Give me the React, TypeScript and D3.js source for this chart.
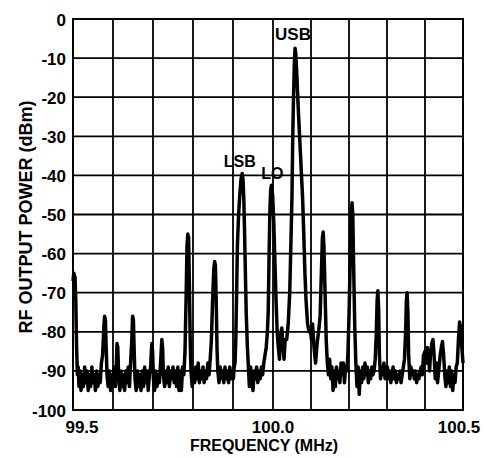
import React from 'react';
import * as d3 from 'd3';

// ── Data ─────────────────────────────────────────────────────────────────────
const yTicks = [0, -10, -20, -30, -40, -50, -60, -70, -80, -90, -100];
const xGrid = [99.5, 99.6, 99.7, 99.8, 99.9, 100.0, 100.1, 100.2, 100.3, 100.4, 100.5];
const xTickLabels = ['99.5', '100.0', '100.5'];
const xTickValues = [99.5, 100.0, 100.5];

const markers = [
  { label: 'LSB', f: 99.922, dbm: -40 },
  { label: 'LO', f: 99.996, dbm: -42.5 },
  { label: 'USB', f: 100.058, dbm: -7.5 },
];

// [frequency MHz, power dBm]
const trace: [number, number][] = [
  [99.5, -67], [99.502, -65], [99.505, -66], [99.507, -72], [99.509, -84], [99.511, -91],
  [99.513, -89], [99.515, -94], [99.518, -90], [99.52, -95], [99.523, -91], [99.526, -94],
  [99.529, -89], [99.532, -93], [99.535, -90], [99.538, -95], [99.541, -91], [99.544, -94],
  [99.547, -89], [99.55, -93], [99.553, -91], [99.556, -95], [99.559, -90], [99.562, -94],
  [99.565, -91], [99.568, -93], [99.571, -88], [99.574, -86], [99.577, -79], [99.579, -76],
  [99.581, -77], [99.583, -84], [99.585, -91], [99.588, -94], [99.591, -90], [99.594, -95],
  [99.597, -91], [99.6, -93], [99.603, -89], [99.606, -94], [99.608, -90], [99.61, -83],
  [99.612, -84], [99.614, -91], [99.617, -95], [99.62, -90], [99.623, -94], [99.626, -91],
  [99.629, -95], [99.632, -90], [99.635, -93], [99.638, -89], [99.641, -94], [99.644, -88],
  [99.647, -82], [99.649, -76], [99.651, -77], [99.653, -85], [99.655, -92], [99.658, -95],
  [99.661, -90], [99.664, -94], [99.667, -91], [99.67, -95], [99.673, -90], [99.676, -94],
  [99.679, -89], [99.682, -93], [99.685, -90], [99.688, -95], [99.691, -91], [99.694, -89],
  [99.697, -83], [99.699, -85], [99.701, -92], [99.704, -95], [99.707, -90], [99.71, -94],
  [99.713, -91], [99.716, -93], [99.719, -88], [99.722, -82], [99.724, -84], [99.726, -91],
  [99.729, -94], [99.732, -90], [99.735, -93], [99.738, -89], [99.741, -94], [99.744, -90],
  [99.747, -92], [99.75, -89], [99.753, -93], [99.756, -90], [99.759, -94], [99.762, -89],
  [99.765, -95], [99.768, -90], [99.771, -95], [99.774, -89], [99.777, -91], [99.78, -85],
  [99.783, -70], [99.785, -58], [99.787, -55], [99.789, -56], [99.791, -68], [99.793, -82],
  [99.795, -90], [99.798, -94], [99.801, -90], [99.804, -93], [99.807, -89], [99.81, -92],
  [99.813, -88], [99.816, -93], [99.819, -90], [99.822, -92], [99.825, -89], [99.828, -93],
  [99.831, -90], [99.834, -92], [99.837, -88], [99.84, -91], [99.843, -87], [99.846, -82],
  [99.849, -72], [99.852, -64], [99.854, -62], [99.856, -63], [99.858, -72], [99.86, -84],
  [99.862, -90], [99.865, -93], [99.868, -89], [99.871, -92], [99.874, -90], [99.877, -93],
  [99.88, -89], [99.883, -92], [99.886, -90], [99.889, -93], [99.892, -89], [99.895, -92],
  [99.898, -90], [99.901, -92], [99.903, -89], [99.905, -88], [99.907, -82], [99.909, -70],
  [99.911, -58], [99.914, -50], [99.917, -45], [99.92, -41], [99.923, -39.5], [99.925, -41],
  [99.927, -46], [99.929, -55], [99.931, -65], [99.933, -75], [99.936, -84], [99.939, -90],
  [99.941, -94], [99.944, -89], [99.947, -92], [99.95, -95], [99.953, -90], [99.956, -92],
  [99.959, -89], [99.962, -93], [99.965, -90], [99.968, -92], [99.971, -89], [99.974, -91],
  [99.977, -88], [99.98, -86], [99.983, -84], [99.986, -80], [99.988, -75], [99.99, -62],
  [99.992, -50], [99.994, -44], [99.996, -42.5], [99.999, -45], [100.002, -52], [100.005, -62],
  [100.008, -72], [100.011, -80], [100.014, -84], [100.017, -87], [100.02, -81], [100.023, -79],
  [100.026, -83], [100.029, -87], [100.032, -82], [100.036, -82], [100.04, -78], [100.044, -70],
  [100.047, -58], [100.05, -45], [100.052, -30], [100.054, -20], [100.056, -12], [100.058, -7.5],
  [100.06, -9], [100.063, -15], [100.066, -22], [100.07, -30], [100.074, -38], [100.078, -46],
  [100.081, -55], [100.084, -65], [100.087, -72], [100.091, -78], [100.095, -80], [100.098, -79],
  [100.101, -82], [100.104, -78], [100.108, -84], [100.112, -88], [100.116, -83], [100.12, -80],
  [100.124, -76], [100.127, -66], [100.13, -56], [100.132, -54.5], [100.134, -58], [100.137, -70],
  [100.14, -82], [100.143, -88], [100.146, -91], [100.149, -87], [100.152, -92], [100.155, -89],
  [100.158, -95], [100.161, -90], [100.164, -94], [100.167, -89], [100.17, -92], [100.173, -90],
  [100.176, -93], [100.179, -88], [100.182, -91], [100.185, -88], [100.188, -93], [100.191, -89],
  [100.194, -90], [100.197, -86], [100.2, -76], [100.203, -63], [100.206, -50], [100.208, -47],
  [100.21, -50], [100.212, -62], [100.215, -78], [100.218, -88], [100.221, -94], [100.224, -89],
  [100.227, -96], [100.23, -90], [100.233, -93], [100.236, -89], [100.239, -92], [100.242, -88],
  [100.245, -91], [100.248, -89], [100.251, -93], [100.254, -90], [100.257, -92], [100.26, -89],
  [100.263, -91], [100.266, -90], [100.269, -87], [100.272, -80], [100.274, -72], [100.276, -69.5],
  [100.278, -74], [100.28, -86], [100.283, -92], [100.286, -89], [100.289, -91], [100.292, -88],
  [100.295, -92], [100.298, -90], [100.301, -89], [100.304, -92], [100.307, -90], [100.31, -93],
  [100.313, -91], [100.316, -89], [100.319, -92], [100.322, -90], [100.325, -93], [100.328, -91],
  [100.331, -92], [100.334, -90], [100.337, -93], [100.34, -91], [100.343, -89], [100.346, -87],
  [100.349, -80], [100.351, -72], [100.353, -70], [100.355, -75], [100.357, -86], [100.36, -92],
  [100.363, -89], [100.366, -91], [100.369, -90], [100.372, -92], [100.375, -90], [100.378, -93],
  [100.381, -91], [100.384, -92], [100.387, -90], [100.39, -89], [100.393, -91], [100.396, -86],
  [100.4, -85], [100.403, -88], [100.406, -84], [100.409, -86], [100.412, -90], [100.415, -85],
  [100.418, -83], [100.421, -82], [100.424, -86], [100.427, -92], [100.43, -88], [100.433, -93],
  [100.436, -90], [100.44, -86], [100.443, -84], [100.446, -82.5], [100.449, -86], [100.452, -91],
  [100.455, -94], [100.458, -90], [100.461, -93], [100.464, -89], [100.467, -94], [100.47, -90],
  [100.473, -95], [100.476, -91], [100.479, -93], [100.482, -89], [100.485, -88], [100.488, -82],
  [100.491, -77.5], [100.494, -79], [100.497, -84], [100.5, -88],
];

// ── Layout ───────────────────────────────────────────────────────────────────
const W = 492;
const H = 458;
const PLOT = { left: 73, mid: 273, right: 463, top: 19, bottom: 410 };
const FONT = '"Liberation Sans", Arial, Helvetica, sans-serif';
const xLabelShift = [9, 0, -4]; // scanned labels sit slightly inside the frame

export default function App() {
  const x = d3.scaleLinear().domain([99.5, 100, 100.5]).range([PLOT.left, PLOT.mid, PLOT.right]);
  const y = d3.scaleLinear().domain([-100, 0]).range([PLOT.bottom, PLOT.top]);

  const line = d3
    .line<[number, number]>()
    .x((d) => x(d[0]))
    .y((d) => y(d[1]));

  return (
    <div style={{ position: 'absolute', left: 0, top: 0, background: '#fff' }}>
      <svg width={W} height={H} style={{ display: 'block', fontFamily: FONT }}>
        <rect width={W} height={H} fill="#fff" />

        {/* grid */}
        {yTicks.map((t) => (
          <line key={'h' + t} x1={PLOT.left} x2={PLOT.right} y1={y(t)} y2={y(t)} stroke="#000" strokeWidth={1.8} />
        ))}
        {xGrid.map((f) => (
          <line key={'v' + f} x1={x(f)} x2={x(f)} y1={PLOT.top} y2={PLOT.bottom} stroke="#000" strokeWidth={1.8} />
        ))}
        <rect
          x={PLOT.left}
          y={PLOT.top}
          width={PLOT.right - PLOT.left}
          height={PLOT.bottom - PLOT.top}
          fill="none"
          stroke="#000"
          strokeWidth={2}
        />

        {/* trace */}
        <path d={line(trace) ?? ''} fill="none" stroke="#000" strokeWidth={3.5} strokeLinejoin="round" />

        {/* markers */}
        {markers.map((m) => (
          <text
            key={m.label}
            x={x(m.f) + (m.label === 'LO' ? 1 : -2)}
            y={y(m.dbm) - (m.label === 'LO' ? 6 : 8)}
            textAnchor="middle"
            fontSize={m.label === 'USB' ? 17 : 16}
            fontWeight="bold"
            fill="#000"
          >
            {m.label}
          </text>
        ))}

        {/* y tick labels */}
        {yTicks.map((t) => (
          <text
            key={'yl' + t}
            x={66}
            y={y(t) + 1}
            textAnchor="end"
            dominantBaseline="central"
            fontSize={17}
            fontWeight="bold"
          >
            {t}
          </text>
        ))}

        {/* x tick labels */}
        {xTickValues.map((f, i) => (
          <text key={'xl' + f} x={x(f) + xLabelShift[i]} y={433} textAnchor="middle" fontSize={17} fontWeight="bold">
            {xTickLabels[i]}
          </text>
        ))}

        {/* axis titles */}
        <text x={264} y={451} textAnchor="middle" fontSize={16} fontWeight="bold">
          FREQUENCY (MHz)
        </text>
        <text
          transform={`translate(32, 217) rotate(-90)`}
          textAnchor="middle"
          fontSize={18}
          fontWeight="bold"
        >
          RF OUTPUT POWER (dBm)
        </text>
      </svg>
    </div>
  );
}
